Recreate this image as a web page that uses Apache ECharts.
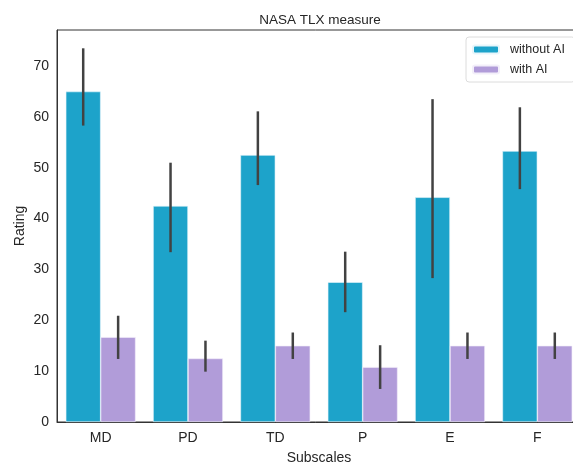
<!DOCTYPE html>
<html>
<head>
<meta charset="UTF-8">
<title>NASA TLX measure</title>
<script src="https://cdn.jsdelivr.net/npm/echarts@6/dist/echarts.min.js"></script>
<style>
  body { margin: 0; background: #fff; }
  #chart { width: 573px; height: 463px; }
</style>
</head>
<body>
<div id="chart"></div>
<script>
// data
const subscales = ['MD', 'PD', 'TD', 'P', 'E', 'F'];
const withoutAI = [65, 42.5, 52.5, 27.5, 44.2, 53.3];
const withoutLow = [58.3, 33.4, 46.6, 21.6, 28.3, 45.8];
const withoutHigh = [73.5, 51.0, 61.1, 33.5, 63.5, 61.9];
const withAI = [16.7, 12.5, 15, 10.8, 15, 15];
const withLow = [12.4, 9.9, 12.4, 6.5, 12.4, 12.4];
const withHigh = [20.9, 16.0, 17.6, 15.1, 17.6, 17.6];
const yTicks = [0, 10, 20, 30, 40, 50, 60, 70];

const font = 'Liberation Sans';
const textColor = '#262626';

function errData(low, high) {
    return subscales.map((s, i) => [i, low[i], high[i]]);
}

function errSeries(low, high, shift) {
    return {
        type: 'custom',
        z: 5,
        silent: true,
        data: errData(low, high),
        renderItem: function (params, api) {
            const band = api.size([1, 0])[0];
            const a = api.coord([api.value(0), api.value(1)]);
            const b = api.coord([api.value(0), api.value(2)]);
            const x = a[0] + shift * band;
            return {
                type: 'line',
                shape: { x1: x, y1: a[1], x2: x, y2: b[1] },
                style: { stroke: '#424242', lineWidth: 2.5 }
            };
        }
    };
}

const chart = echarts.init(document.getElementById('chart'));
chart.setOption({
    animation: false,
    title: {
        text: 'NASA TLX measure',
        left: 315, top: 8, textAlign: 'center',
        textStyle: { fontFamily: font, fontSize: 13.5, fontWeight: 'normal', color: textColor }
    },
    legend: {
        data: ['without AI', 'with AI'],
        orient: 'vertical',
        left: 466, top: 37,
        itemWidth: 26, itemHeight: 8, itemGap: 7,
        padding: [6, 10, 6, 6],
        borderColor: '#dcdcdc', borderWidth: 1, borderRadius: 3,
        backgroundColor: '#fff',
        textStyle: { fontFamily: font, fontSize: 12.5, color: textColor, padding: [0, 0, 0, 6] }
    },
    grid: {
        left: 57, top: 30, width: 524, height: 392,
        outerBoundsMode: 'none',
        show: true, borderColor: '#333', borderWidth: 1
    },
    xAxis: {
        type: 'category',
        data: subscales,
        name: 'Subscales',
        nameLocation: 'middle', nameGap: 29,
        nameTextStyle: { fontFamily: font, fontSize: 14, color: textColor },
        axisLine: { lineStyle: { color: '#333' } },
        axisTick: { show: false },
        axisLabel: { fontFamily: font, fontSize: 14, color: textColor, margin: 9 }
    },
    yAxis: {
        type: 'value',
        min: 0, max: 77.1, interval: 10,
        name: 'Rating',
        nameLocation: 'middle', nameGap: 30, nameMoveOverlap: false,
        nameTextStyle: { fontFamily: font, fontSize: 14, color: textColor },
        axisLine: { show: true, lineStyle: { color: '#333' } },
        axisTick: { show: false },
        splitLine: { show: false },
        axisLabel: {
            fontFamily: font, fontSize: 14, color: textColor, margin: 8,
            formatter: v => yTicks.includes(v) ? String(v) : ''
        }
    },
    series: [
        {
            name: 'without AI', type: 'bar', data: withoutAI,
            barCategoryGap: '20%', barGap: '0%',
            itemStyle: { color: '#1da3ca', borderColor: '#e8f6fb', borderWidth: 0.6 }
        },
        {
            name: 'with AI', type: 'bar', data: withAI,
            itemStyle: { color: '#b19cd9', borderColor: '#f3effa', borderWidth: 0.6 }
        },
        errSeries(withoutLow, withoutHigh, -0.2),
        errSeries(withLow, withHigh, 0.2)
    ]
});
</script>
</body>
</html>
